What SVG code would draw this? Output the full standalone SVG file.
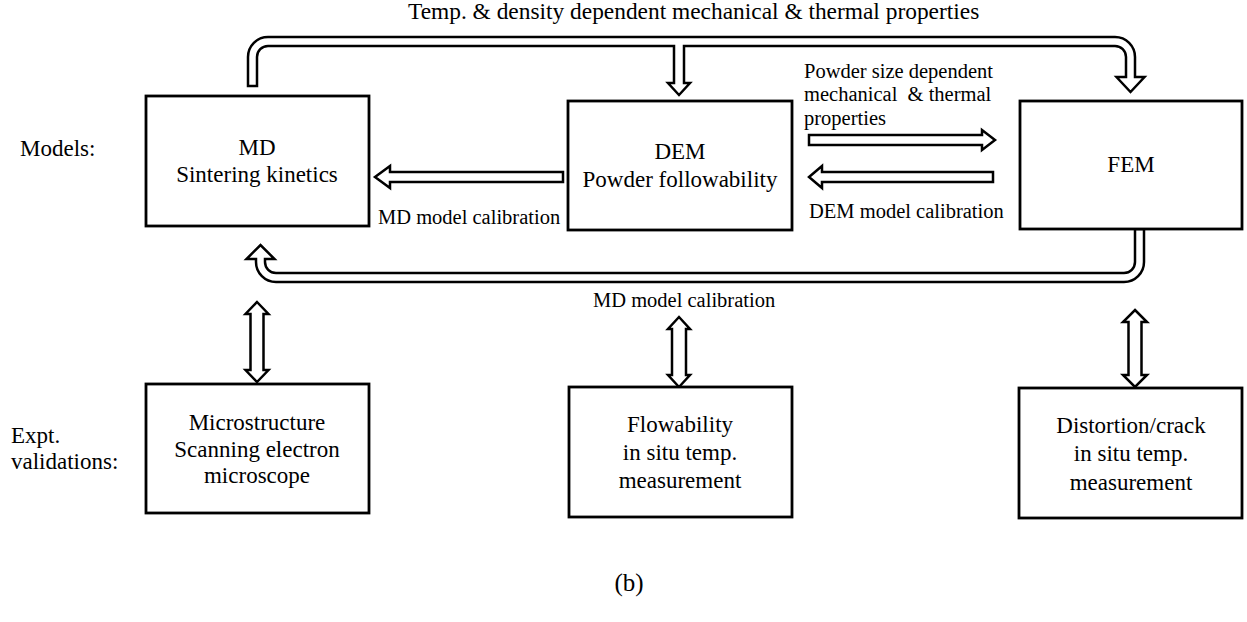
<svg xmlns="http://www.w3.org/2000/svg" width="1247" height="622" viewBox="0 0 1247 622">
<style>
text{font-family:"Liberation Serif","Times New Roman",serif;fill:#000}
.t{font-size:23px}
.l{font-size:20.5px}
.c{text-anchor:middle}
.box{fill:#fff;stroke:#000;stroke-width:2.8}
.arr{fill:#fff;stroke:#000;stroke-width:2.5;stroke-linejoin:miter}
</style>
<rect width="1247" height="622" fill="#fff"/>
<text class="t" x="408" y="19" style="font-size:23.4px">Temp. &amp; density dependent mechanical &amp; thermal properties</text>
<text class="t" x="20" y="156">Models:</text>
<text class="t" x="11" y="443">Expt.</text>
<text class="t" x="11" y="469">validations:</text>
<g id="connectors">
<path class="arr" d="M248 86 V57 A20 20 0 0 1 268 37 H1115 A20 20 0 0 1 1135 57 V77 H1144.5 L1130.5 92 L1116.5 77 H1126 V57 A11 11 0 0 0 1115 46 H684 V83 H690 L679 95 L668 83 H674 V46 H268 A11 11 0 0 0 257 57 V86 Z"/>
<path class="arr" d="M1135 229 V262 A11 11 0 0 1 1124 273 H276 A11 11 0 0 1 265 262 V259 H274.5 L260.5 245 L246.5 259 H256 V262 A20 20 0 0 0 276 282 H1124 A20 20 0 0 0 1144 262 V229 Z"/>
<path class="arr" d="M563 172 H390 V166 L375 177 L390 188 V182 H563 Z"/>
<path class="arr" d="M809 135 H982 V130 L995 140 L982 150 V145 H809 Z"/>
<path class="arr" d="M993 172 H822 V166 L809 177 L822 188 V182 H993 Z"/>
<path class="arr" d="M257 302 L268.5 314 H263.5 V370 H268.5 L257 382 L245.5 370 H250.5 V314 H245.5 Z"/>
<path class="arr" d="M679 317 L690 329 H686 V375 H690 L679 387 L668 375 H672 V329 H668 Z"/>
<path class="arr" d="M1135 310 L1147 322 H1141.5 V375 H1147 L1135 387 L1123 375 H1128.5 V322 H1123 Z"/>
<text class="l" x="378" y="224">MD model calibration</text>
<text class="l" x="804" y="78">Powder size dependent</text>
<text class="l" x="804" y="101">mechanical&#160; &amp; thermal</text>
<text class="l" x="804" y="125">properties</text>
<text class="l" x="809" y="218">DEM model calibration</text>
<text class="l" x="593" y="307">MD model calibration</text>
</g>
<g id="md">
<rect class="box" x="146" y="96" width="223" height="130"/>
<text class="t c" x="257" y="155">MD</text>
<text class="t c" x="257" y="182">Sintering kinetics</text>
</g>
<g id="dem">
<rect class="box" x="568" y="101" width="224" height="129"/>
<text class="t c" x="680" y="159">DEM</text>
<text class="t c" x="680" y="187">Powder followability</text>
</g>
<g id="fem">
<rect class="box" x="1020" y="101" width="222" height="128"/>
<text class="t c" x="1131" y="172">FEM</text>
</g>
<g id="micro">
<rect class="box" x="146" y="384" width="223" height="129"/>
<text class="t c" x="257" y="430">Microstructure</text>
<text class="t c" x="257" y="457">Scanning electron</text>
<text class="t c" x="257" y="483">microscope</text>
</g>
<g id="flow">
<rect class="box" x="569" y="387" width="223" height="130"/>
<text class="t c" x="680" y="432">Flowability</text>
<text class="t c" x="680" y="460">in situ temp.</text>
<text class="t c" x="680" y="488">measurement</text>
</g>
<g id="distortion">
<rect class="box" x="1019" y="388" width="223" height="130"/>
<text class="t c" x="1131" y="433">Distortion/crack</text>
<text class="t c" x="1131" y="461">in situ temp.</text>
<text class="t c" x="1131" y="490">measurement</text>
</g>
<text x="629" y="591" style="font-size:25px" class="c">(b)</text>
</svg>
